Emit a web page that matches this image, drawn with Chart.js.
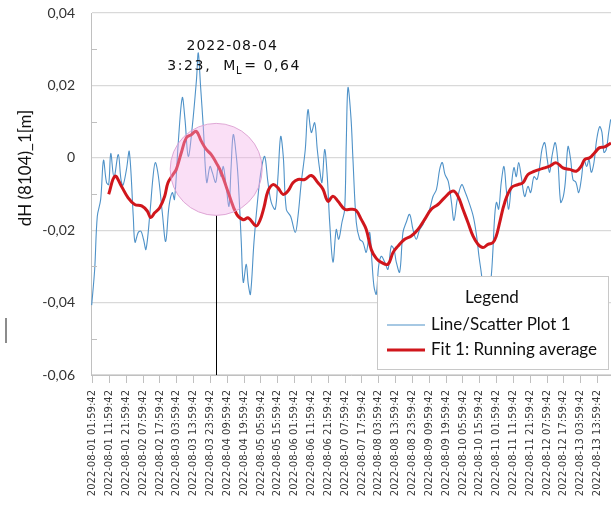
<!DOCTYPE html>
<html>
<head>
<meta charset="utf-8">
<script src="https://cdn.jsdelivr.net/npm/chart.js@4/dist/chart.umd.min.js"></script>
<style>
html,body{margin:0;padding:0;background:#fff;}
#wrap{width:611px;height:505px;position:relative;}
</style>
</head>
<body>
<div id="wrap"><canvas id="c" width="611" height="505"></canvas></div>
<script>
// ---------------- data ----------------
const START_TIME = '2022-08-01 01:59:42';
const TICK_LABELS = [
  '2022-08-01 01:59:42','2022-08-01 11:59:42','2022-08-01 21:59:42','2022-08-02 07:59:42',
  '2022-08-02 17:59:42','2022-08-03 03:59:42','2022-08-03 13:59:42','2022-08-03 23:59:42',
  '2022-08-04 09:59:42','2022-08-04 19:59:42','2022-08-05 05:59:42','2022-08-05 15:59:42',
  '2022-08-06 01:59:42','2022-08-06 11:59:42','2022-08-06 21:59:42','2022-08-07 07:59:42',
  '2022-08-07 17:59:42','2022-08-08 03:59:42','2022-08-08 13:59:42','2022-08-08 23:59:42',
  '2022-08-09 09:59:42','2022-08-09 19:59:42','2022-08-10 05:59:42','2022-08-10 15:59:42',
  '2022-08-11 01:59:42','2022-08-11 11:59:42','2022-08-11 21:59:42','2022-08-12 07:59:42',
  '2022-08-12 17:59:42','2022-08-13 03:59:42','2022-08-13 13:59:42'
];
const SERIES_NAMES = ['Line/Scatter Plot 1', 'Fit 1: Running average'];
const LEGEND_TITLE = 'Legend';
const Y_TITLE = 'dH (8104)_1[m]';

// hours after START_TIME
const RAW_HOURS = [-0.6,1.19,2.73,4.75,6.42,8.2,9.51,10.76,12.66,15.21,
  16.82,18.0,20.08,21.75,24.12,25.13,27.1,28.7,30.19,31.67,
  34.05,35.83,37.2,38.98,41.36,43.38,45.34,47.3,48.61,50.86,
  53.24,54.85,56.81,59.18,61.68,62.75,64.05,65.72,67.74,69.7,
  71.07,73.09,74.63,76.24,77.6,79.21,80.99,82.18,83.55,85.56,
  86.64,88.3,89.49,91.27,92.46,93.76,95.84,98.22,100.18,102.2,
  104.16,106.12,108.5,110.1,111.71,113.25,115.04,117.65,120.39,121.99,
  123.95,126.33,127.93,129.89,131.91,133.46,134.88,136.25,137.86,139.4,
  140.83,142.79,144.75,146.17,148.14,149.74,150.69,151.7,153.48,154.67,
  156.63,158.65,160.61,162.57,164.59,165.96,167.15,168.52,169.94,171.49,
  173.51,175.47,177.43,179.04,180.4,182.42,184.38,186.34,188.36,190.32,
  192.29,194.31,196.27,198.23,200.25,202.21,204.29,206.19,207.73,209.34,
  211.3,213.2,214.69,216.65,219.26,221.22,223.6,226.16,228.17,229.54,
  231.03,232.51,234.89,236.85,237.86,238.87,239.94,241.25,242.79,244.4,
  245.76,247.19,248.73,250.34,251.71,253.13,254.68,256.7,258.66,260.26,
  262.22,264.0,265.61,266.98,268.58,270.13,271.55,272.92,274.88,276.49,
  278.09,279.64,280.83,282.43,284.03,285.4,287.18,288.79,290.33,291.94,
  293.54,294.91,296.28,297.88,299.48,301.27,302.63,303.82,305.19,306.62,307.8];
const RAW_VALUES = [-0.0407,-0.0308,-0.0162,-0.0115,-0.0007,-0.0068,-0.0074,0.0012,-0.0054,0.0009,
  -0.0060,-0.0076,-0.0032,0.0017,-0.0162,-0.0233,-0.0206,-0.0203,-0.0225,-0.0253,
  -0.0151,-0.0054,-0.0013,-0.0049,-0.0151,-0.0231,-0.0134,-0.0096,-0.0115,0.0042,
  0.0166,0.0106,0.0004,0.0086,0.0216,0.0290,0.0202,0.0086,-0.0068,-0.0024,
  -0.0040,-0.0068,-0.0024,-0.0052,-0.0024,-0.0074,-0.0134,-0.0032,0.0064,-0.0005,
  -0.0074,-0.0233,-0.0344,-0.0294,-0.0349,-0.0377,-0.0233,-0.0107,-0.0032,0.0004,
  -0.0068,-0.0123,-0.0142,-0.0052,0.0059,0.0004,-0.0142,-0.0162,-0.0206,-0.0162,
  -0.0068,0.0023,0.0133,0.0070,0.0097,0.0023,-0.0032,-0.0068,0.0023,-0.0052,
  -0.0178,-0.0288,-0.0198,-0.0225,-0.0178,-0.0142,0.0042,0.0194,0.0111,-0.0005,
  -0.0178,-0.0225,-0.0233,-0.0261,-0.0206,-0.0288,-0.0355,-0.0377,-0.0299,-0.0272,
  -0.0288,-0.0308,-0.0244,-0.0253,-0.0288,-0.0316,-0.0206,-0.0178,-0.0156,-0.0198,
  -0.0225,-0.0198,-0.0184,-0.0162,-0.0142,-0.0107,-0.0087,-0.0032,-0.0013,-0.0046,
  -0.0065,-0.0123,-0.0173,-0.0115,-0.0074,-0.0093,-0.0123,-0.0162,-0.0217,-0.0272,
  -0.0322,-0.0390,-0.0404,-0.0327,-0.0253,-0.0162,-0.0123,-0.0142,-0.0068,-0.0024,
  -0.0087,-0.0142,-0.0079,-0.0027,-0.0052,-0.0013,-0.0052,-0.0107,-0.0079,-0.0096,
  -0.0052,-0.0060,-0.0024,0.0023,0.0042,-0.0005,-0.0040,0.0004,0.0042,-0.0013,
  -0.0123,-0.0107,-0.0068,0.0031,-0.0005,-0.0060,-0.0068,-0.0096,-0.0060,-0.0005,
  -0.0024,-0.0005,-0.0040,-0.0013,0.0050,0.0086,0.0070,0.0015,0.0023,0.0070,0.0106];

const FIT_HOURS = [9.51,13.25,17.0,20.98,24.96,29.12,32.44,34.46,36.84,39.81,
  42.78,44.74,47.71,49.68,52.65,55.62,58.59,61.56,64.53,67.5,
  70.47,73.44,76.41,80.57,85.56,89.49,92.46,97.03,99.41,101.79,
  104.16,107.14,110.1,113.08,116.05,119.02,121.99,125.97,129.89,133.88,
  136.85,139.82,142.79,145.76,149.74,153.66,156.46,159.6,162.57,165.54,
  168.52,171.49,175.47,178.44,181.41,185.39,189.31,193.29,197.28,201.2,
  205.18,209.16,214.09,217.06,220.03,223.0,225.97,228.94,231.91,234.88,
  237.86,239.82,241.84,244.81,248.73,252.71,255.68,258.66,262.64,265.61,
  268.58,271.55,275.47,279.45,283.43,287.35,290.33,292.35,295.32,298.29,
  301.26,304.24,307.98];
const FIT_VALUES = [-0.0101,-0.0051,-0.0078,-0.0110,-0.0129,-0.0133,-0.0147,-0.0165,-0.0152,-0.0138,
  -0.0106,-0.0069,-0.0046,-0.0032,0.0014,0.0055,0.0064,0.0073,0.0046,0.0023,
  0.0009,-0.0014,-0.0041,-0.0096,-0.0156,-0.0171,-0.0166,-0.0188,-0.0173,-0.0137,
  -0.0092,-0.0074,-0.0083,-0.0101,-0.0092,-0.0069,-0.0060,-0.0060,-0.0049,-0.0069,
  -0.0087,-0.0120,-0.0106,-0.0120,-0.0142,-0.0142,-0.0145,-0.0170,-0.0198,-0.0253,
  -0.0278,-0.0289,-0.0294,-0.0262,-0.0244,-0.0225,-0.0216,-0.0198,-0.0170,-0.0142,
  -0.0129,-0.0110,-0.0092,-0.0106,-0.0142,-0.0179,-0.0216,-0.0239,-0.0248,-0.0239,
  -0.0234,-0.0216,-0.0179,-0.0124,-0.0083,-0.0074,-0.0069,-0.0046,-0.0037,-0.0032,
  -0.0028,-0.0023,-0.0014,-0.0028,-0.0032,-0.0037,-0.0023,-0.0005,0.0000,0.0014,
  0.0028,0.0030,0.0041];

const Y_MIN = -0.06, Y_MAX = 0.04, Y_MAJOR = 0.02, Y_MINOR = 0.01;
const X_MIN = -1.0, X_MAX = 308;

const EVENT_TIME = '2022-08-04 03:23:00';
const EVENT_DATE_TEXT = '2022-08-04';
const EVENT_TIME_TEXT = '3:23,  M';
const EVENT_SUB = 'L';
const EVENT_MAG_TEXT = '= 0,64';
const EVENT_CENTER_VALUE = -0.0032;

// ---------------- helpers ----------------
const toMs = s => Date.parse(s.replace(' ', 'T') + 'Z');
const hoursFromStart = s => (toMs(s) - toMs(START_TIME)) / 3600000;
const TICK_HOURS = TICK_LABELS.map(hoursFromStart);
const isMajor = v => Math.abs(v / Y_MAJOR - Math.round(v / Y_MAJOR)) < 1e-6;
const fmtY = v => Math.abs(v) < 1e-9 ? '0' : v.toFixed(2).replace('.', ',');

const overlay = {
  id: 'overlay',
  afterDatasetsDraw(chart) {
    const {ctx, chartArea: a, scales: {x, y}} = chart;
    const ex = x.getPixelForValue(hoursFromStart(EVENT_TIME));
    const ey = y.getPixelForValue(EVENT_CENTER_VALUE);
    const r = 46;
    ctx.save();
    // marker line
    ctx.strokeStyle = '#000'; ctx.lineWidth = 1;
    ctx.beginPath();
    ctx.moveTo(Math.round(ex) + 0.5, ey + r);
    ctx.lineTo(Math.round(ex) + 0.5, a.bottom);
    ctx.stroke();
    // circle
    ctx.beginPath(); ctx.arc(ex, ey, r, 0, Math.PI * 2);
    ctx.fillStyle = 'rgba(242,175,232,0.40)'; ctx.fill();
    ctx.strokeStyle = 'rgba(220,160,210,0.9)'; ctx.lineWidth = 1; ctx.stroke();
    // annotation text
    ctx.fillStyle = '#111';
    ctx.font = '14px "DejaVu Sans"';
    try { ctx.letterSpacing = '1px'; } catch (e) {}
    ctx.textBaseline = 'middle';
    ctx.textAlign = 'center';
    const tx = ex + 16;
    ctx.fillText(EVENT_DATE_TEXT, tx, a.top + 33);
    try { ctx.letterSpacing = '1.6px'; } catch (e) {}
    ctx.textAlign = 'left';
    const w1 = ctx.measureText(EVENT_TIME_TEXT).width;
    ctx.font = '10px "DejaVu Sans"';
    const w2 = ctx.measureText(EVENT_SUB).width;
    ctx.font = '14px "DejaVu Sans"';
    const w3 = ctx.measureText(EVENT_MAG_TEXT).width;
    let sx = tx + 2 - (w1 + w2 + w3) / 2;
    const ly = a.top + 53;
    ctx.fillText(EVENT_TIME_TEXT, sx, ly); sx += w1;
    ctx.font = '10px "DejaVu Sans"';
    ctx.fillText(EVENT_SUB, sx - 1, ly + 5); sx += w2;
    ctx.font = '14px "DejaVu Sans"';
    ctx.fillText(EVENT_MAG_TEXT, sx, ly);
    try { ctx.letterSpacing = '0px'; } catch (e) {}
    // legend box
    const L = a.right - 234, T = a.bottom - 99, W = 231, H = 93;
    ctx.fillStyle = '#fff';
    ctx.fillRect(L, T, W, H);
    ctx.strokeStyle = '#c8c8c8'; ctx.lineWidth = 1;
    ctx.strokeRect(L + 0.5, T + 0.5, W, H);
    ctx.fillStyle = '#111';
    ctx.font = '17px Lato';
    ctx.textAlign = 'center';
    ctx.fillText(LEGEND_TITLE, L + 115, T + 22);
    ctx.textAlign = 'left';
    const ds = chart.data.datasets;
    const rows = [ds.find(d => d.label === SERIES_NAMES[0]), ds.find(d => d.label === SERIES_NAMES[1])];
    rows.forEach((d, i) => {
      const ry = T + 49 + i * 25;
      ctx.strokeStyle = d.borderColor; ctx.lineWidth = d.borderWidth;
      ctx.beginPath(); ctx.moveTo(L + 10, ry); ctx.lineTo(L + 48, ry); ctx.stroke();
      ctx.fillStyle = '#111';
      ctx.fillText(d.label, L + 54, ry);
    });
    ctx.restore();
  },
  afterDraw(chart) {
    const {ctx, chartArea: a, scales: {y}} = chart;
    ctx.save();
    // minor ticks
    ctx.strokeStyle = '#bfbfbf'; ctx.lineWidth = 1;
    y.ticks.forEach(t => {
      if (!isMajor(t.value)) {
        const py = Math.round(y.getPixelForValue(t.value)) + 0.5;
        ctx.beginPath(); ctx.moveTo(a.left, py); ctx.lineTo(a.left + 6, py); ctx.stroke();
      }
    });
    // y title
    ctx.translate(26, 168);
    ctx.rotate(-Math.PI / 2);
    ctx.fillStyle = '#111';
    ctx.font = '17px Lato';
    ctx.textAlign = 'center'; ctx.textBaseline = 'middle';
    ctx.fillText(Y_TITLE, 0, 0);
    ctx.restore();
    // small stray mark at left
    ctx.save();
    ctx.fillStyle = '#8c8c8c';
    ctx.fillRect(5, 318, 2, 25);
    ctx.restore();
  }
};

new Chart(document.getElementById('c'), {
  type: 'line',
  data: {
    datasets: [
      {
        label: SERIES_NAMES[1],
        data: FIT_HOURS.map((h, i) => ({x: h, y: FIT_VALUES[i]})),
        borderColor: '#d0161c', borderWidth: 3, pointRadius: 0, tension: 0.4, order: 1
      },
      {
        label: SERIES_NAMES[0],
        data: RAW_HOURS.map((h, i) => ({x: h, y: RAW_VALUES[i]})),
        borderColor: '#4f92c8', borderWidth: 1.1, pointRadius: 0, tension: 0.35, order: 2
      }
    ]
  },
  options: {
    responsive: false,
    animation: false,
    devicePixelRatio: 1,
    layout: {padding: {top: 13, right: 0, left: 0, bottom: 0}},
    plugins: {legend: {display: false}, tooltip: {enabled: false}, title: {display: false}},
    scales: {
      x: {
        type: 'linear', min: X_MIN, max: X_MAX,
        afterBuildTicks: s => { s.ticks = TICK_HOURS.map(v => ({value: v})); },
        ticks: {
          autoSkip: false, minRotation: 90, maxRotation: 90, padding: 7,
          font: {family: 'DejaVu Sans', size: 10}, color: '#3a3a3a',
          callback: (v, i) => TICK_LABELS[i]
        },
        grid: {drawOnChartArea: false, drawTicks: true, tickLength: 8, color: '#c0c0c0'},
        border: {display: true, color: '#c0c0c0'},
        afterFit: s => { s.height = 130; s.paddingLeft = 0; s.paddingRight = 0; }
      },
      y: {
        min: Y_MIN, max: Y_MAX,
        ticks: {
          stepSize: Y_MINOR, padding: 16, autoSkip: false,
          font: {family: 'Lato', size: 14}, color: '#333',
          callback: v => isMajor(v) ? fmtY(v) : ''
        },
        grid: {
          drawTicks: false, lineWidth: 1.3,
          color: c => (c.tick && isMajor(c.tick.value)) ? '#d9d9d9' : 'rgba(0,0,0,0)'
        },
        border: {display: true, color: '#c0c0c0'},
        afterFit: s => { s.width = 91; s.paddingTop = 0; s.paddingBottom = 0; }
      }
    }
  },
  plugins: [overlay]
});
</script>
</body>
</html>
